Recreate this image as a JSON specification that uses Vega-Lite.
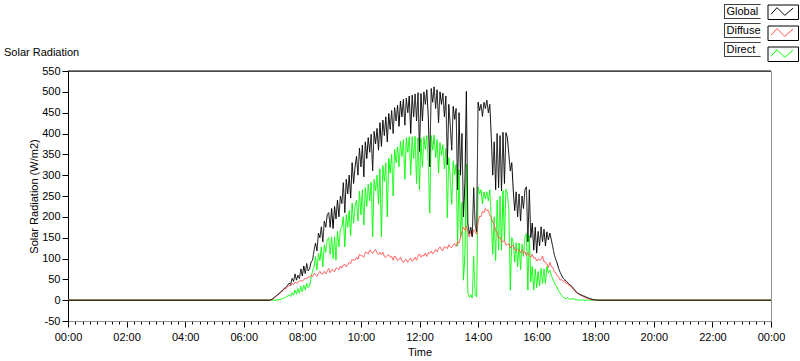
{
"$schema": "https://vega.github.io/schema/vega-lite/v6.json",
"width": 703, "height": 250,
"autosize": {"type": "none"},
"padding": {"left": 68, "top": 71, "right": 29, "bottom": 40},
"background": "white",
"config": {
 "font": "Liberation Sans",
 "view": {"stroke": "#909090"},
 "axis": {"labelFont": "Liberation Sans", "labelFontSize": 11, "labelColor": "#000", "titleFont": "Liberation Sans", "titleFontSize": 11, "titleFontWeight": "normal", "titleColor": "#000", "tickColor": "#000", "domainColor": "#000", "grid": false, "labelOverlap": false},
 "legend": {"labelFont": "Liberation Sans", "labelFontSize": 11, "labelColor": "#000"}
},
"title": {"text": "Solar Radiation", "anchor": "start", "frame": "group", "dx": -64, "dy": 67, "offset": 13, "fontSize": 11, "fontWeight": "normal", "font": "Liberation Sans", "color": "#000"},
"data": {"values": [
{"t":0,"g":0,"d":0,"b":0},{"t":411,"g":0,"d":0,"b":0},{"t":414,"g":0,"d":0,"b":0},{"t":417,"g":2,"d":1,"b":0},{"t":420,"g":4,"d":3,"b":0},{"t":423,"g":7,"d":6,"b":0},{"t":426,"g":10,"d":9,"b":0},{"t":429,"g":13,"d":12,"b":0},{"t":432,"g":16,"d":15,"b":1},{"t":435,"g":19,"d":17,"b":2},{"t":438,"g":22,"d":21,"b":3},{"t":441,"g":26,"d":24,"b":4},{"t":444,"g":29,"d":28,"b":6},{"t":447,"g":32,"d":28,"b":8},{"t":450,"g":36,"d":33,"b":10},{"t":453,"g":41,"d":36,"b":13},{"t":456,"g":38,"d":34,"b":9},{"t":459,"g":52,"d":40,"b":18},{"t":462,"g":45,"d":38,"b":12},{"t":465,"g":63,"d":43,"b":24},{"t":468,"g":48,"d":41,"b":14},{"t":471,"g":60,"d":43,"b":28},{"t":474,"g":52,"d":45,"b":17},{"t":477,"g":75,"d":48,"b":33},{"t":480,"g":58,"d":45,"b":20},{"t":483,"g":82,"d":50,"b":36},{"t":486,"g":64,"d":52,"b":25},{"t":489,"g":88,"d":51,"b":40},{"t":492,"g":70,"d":56,"b":30},{"t":495,"g":76,"d":55,"b":34},{"t":498,"g":92,"d":60,"b":55},{"t":501,"g":96,"d":56,"b":70},{"t":504,"g":120,"d":64,"b":80},{"t":507,"g":137,"d":62,"b":104},{"t":510,"g":118,"d":57,"b":72},{"t":513,"g":161,"d":64,"b":112},{"t":516,"g":150,"d":69,"b":95},{"t":519,"g":176,"d":63,"b":128},{"t":522,"g":140,"d":63,"b":80},{"t":525,"g":190,"d":69,"b":133},{"t":528,"g":175,"d":63,"b":115},{"t":531,"g":205,"d":70,"b":145},{"t":534,"g":210,"d":76,"b":150},{"t":537,"g":175,"d":66,"b":110},{"t":540,"g":220,"d":72,"b":152},{"t":543,"g":172,"d":73,"b":100},{"t":546,"g":225,"d":68,"b":152},{"t":549,"g":195,"d":77,"b":96},{"t":552,"g":240,"d":77,"b":165},{"t":555,"g":200,"d":73,"b":128},{"t":558,"g":250,"d":82,"b":170},{"t":561,"g":232,"d":77,"b":176},{"t":564,"g":282,"d":84,"b":200},{"t":567,"g":210,"d":86,"b":128},{"t":570,"g":290,"d":80,"b":205},{"t":573,"g":255,"d":85,"b":175},{"t":576,"g":300,"d":91,"b":215},{"t":579,"g":245,"d":88,"b":155},{"t":582,"g":330,"d":98,"b":233},{"t":585,"g":280,"d":96,"b":185},{"t":588,"g":320,"d":96,"b":225},
{"t":591,"g":345,"d":103,"b":240},{"t":594,"g":300,"d":98,"b":190},{"t":597,"g":365,"d":110,"b":262},{"t":600,"g":320,"d":107,"b":205},{"t":603,"g":372,"d":106,"b":265},{"t":606,"g":296,"d":103,"b":180},{"t":609,"g":380,"d":115,"b":270},{"t":612,"g":340,"d":114,"b":225},{"t":615,"g":390,"d":111,"b":278},{"t":618,"g":355,"d":120,"b":238},{"t":621,"g":398,"d":117,"b":283},{"t":624,"g":310,"d":112,"b":152},{"t":627,"g":405,"d":118,"b":290},{"t":630,"g":375,"d":122,"b":262},{"t":633,"g":412,"d":113,"b":300},{"t":636,"g":360,"d":109,"b":230},{"t":639,"g":426,"d":115,"b":315},{"t":642,"g":369,"d":109,"b":152},{"t":645,"g":432,"d":115,"b":323},{"t":648,"g":395,"d":105,"b":285},{"t":651,"g":440,"d":102,"b":330},{"t":654,"g":380,"d":107,"b":200},{"t":657,"g":448,"d":109,"b":340},{"t":660,"g":410,"d":103,"b":305},{"t":663,"g":455,"d":105,"b":350},{"t":666,"g":400,"d":96,"b":250},{"t":669,"g":462,"d":106,"b":362},{"t":672,"g":430,"d":103,"b":330},{"t":675,"g":468,"d":95,"b":368},{"t":678,"g":417,"d":98,"b":320},{"t":681,"g":478,"d":103,"b":381},{"t":684,"g":440,"d":94,"b":345},{"t":687,"g":482,"d":90,"b":385},{"t":690,"g":420,"d":96,"b":290},{"t":693,"g":485,"d":98,"b":390},{"t":696,"g":450,"d":91,"b":355},{"t":699,"g":490,"d":96,"b":392},{"t":702,"g":400,"d":101,"b":300},{"t":705,"g":492,"d":93,"b":392},{"t":708,"g":440,"d":97,"b":340},{"t":711,"g":495,"d":103,"b":393},{"t":714,"g":430,"d":96,"b":280},{"t":717,"g":498,"d":106,"b":390},{"t":720,"g":357,"d":111,"b":265},
{"t":723,"g":496,"d":103,"b":388},{"t":726,"g":430,"d":108,"b":320},{"t":729,"g":500,"d":106,"b":392},{"t":732,"g":470,"d":113,"b":362},{"t":735,"g":505,"d":105,"b":395},{"t":738,"g":440,"d":114,"b":330},{"t":741,"g":320,"d":112,"b":209},{"t":744,"g":508,"d":118,"b":395},{"t":747,"g":475,"d":111,"b":360},{"t":750,"g":512,"d":115,"b":396},{"t":753,"g":460,"d":122,"b":342},{"t":756,"g":505,"d":116,"b":385},{"t":759,"g":426,"d":123,"b":305},{"t":762,"g":500,"d":128,"b":378},{"t":765,"g":470,"d":121,"b":347},{"t":768,"g":497,"d":119,"b":373},{"t":771,"g":440,"d":128,"b":315},{"t":774,"g":490,"d":127,"b":364},{"t":777,"g":325,"d":124,"b":198},{"t":780,"g":470,"d":133,"b":342},{"t":783,"g":420,"d":128,"b":291},{"t":786,"g":360,"d":126,"b":230},{"t":789,"g":465,"d":133,"b":334},{"t":792,"g":434,"d":136,"b":301},{"t":795,"g":460,"d":129,"b":326},{"t":798,"g":265,"d":141,"b":130},{"t":801,"g":450,"d":137,"b":313},{"t":804,"g":300,"d":150,"b":150},{"t":807,"g":400,"d":165,"b":235},{"t":810,"g":200,"d":175,"b":48},{"t":813,"g":280,"d":168,"b":108},{"t":816,"g":501,"d":178,"b":327},{"t":819,"g":185,"d":165,"b":17},{"t":822,"g":160,"d":152,"b":7},{"t":825,"g":175,"d":166,"b":13},{"t":828,"g":152,"d":155,"b":5},{"t":831,"g":270,"d":169,"b":105},{"t":834,"g":180,"d":165,"b":12},{"t":837,"g":165,"d":158,"b":8},{"t":840,"g":475,"d":188,"b":272},{"t":843,"g":455,"d":202,"b":255},{"t":846,"g":470,"d":200,"b":265},{"t":849,"g":441,"d":213,"b":231},{"t":852,"g":475,"d":210,"b":260},{"t":855,"g":460,"d":220,"b":243},{"t":858,"g":480,"d":215,"b":260},{"t":861,"g":450,"d":216,"b":238},{"t":864,"g":470,"d":203,"b":265},{"t":867,"g":393,"d":200,"b":195},{"t":870,"g":300,"d":186,"b":110},{"t":873,"g":380,"d":183,"b":200},{"t":876,"g":265,"d":166,"b":95},
{"t":879,"g":400,"d":164,"b":240},{"t":882,"g":270,"d":148,"b":120},{"t":885,"g":395,"d":151,"b":250},{"t":888,"g":262,"d":139,"b":120},{"t":891,"g":403,"d":141,"b":263},{"t":894,"g":280,"d":143,"b":142},{"t":897,"g":402,"d":132,"b":266},{"t":900,"g":390,"d":134,"b":256},{"t":903,"g":350,"d":135,"b":218},{"t":906,"g":310,"d":125,"b":24},{"t":909,"g":330,"d":130,"b":150},{"t":912,"g":265,"d":132,"b":139},{"t":915,"g":215,"d":123,"b":91},{"t":918,"g":260,"d":118,"b":138},{"t":921,"g":200,"d":123,"b":80},{"t":924,"g":255,"d":119,"b":137},{"t":927,"g":190,"d":114,"b":73},{"t":930,"g":250,"d":121,"b":134},{"t":933,"g":220,"d":113,"b":105},{"t":936,"g":265,"d":116,"b":151},{"t":939,"g":272,"d":107,"b":160},{"t":942,"g":140,"d":114,"b":24},{"t":945,"g":265,"d":108,"b":155},{"t":948,"g":150,"d":103,"b":44},{"t":951,"g":185,"d":110,"b":81},{"t":954,"g":120,"d":101,"b":24},{"t":957,"g":175,"d":102,"b":75},{"t":960,"g":113,"d":94,"b":30},{"t":963,"g":165,"d":99,"b":69},{"t":966,"g":130,"d":96,"b":35},{"t":969,"g":176,"d":98,"b":76},{"t":972,"g":140,"d":106,"b":39},{"t":975,"g":170,"d":92,"b":75},{"t":978,"g":130,"d":92,"b":40},{"t":981,"g":164,"d":87,"b":81},{"t":984,"g":145,"d":78,"b":65},
{"t":987,"g":161,"d":91,"b":72},{"t":990,"g":145,"d":81,"b":60},{"t":993,"g":128,"d":79,"b":50},{"t":996,"g":110,"d":68,"b":42},{"t":999,"g":98,"d":66,"b":36},{"t":1002,"g":89,"d":58,"b":30},{"t":1005,"g":76,"d":56,"b":22},{"t":1008,"g":67,"d":48,"b":17},{"t":1011,"g":60,"d":50,"b":12},{"t":1014,"g":53,"d":45,"b":7},{"t":1017,"g":50,"d":47,"b":5},{"t":1020,"g":46,"d":40,"b":3},{"t":1023,"g":43,"d":41,"b":7},{"t":1026,"g":39,"d":35,"b":3},{"t":1029,"g":36,"d":34,"b":2},{"t":1032,"g":33,"d":30,"b":4},{"t":1035,"g":29,"d":26,"b":3},{"t":1038,"g":25,"d":22,"b":2},{"t":1041,"g":20,"d":18,"b":1},{"t":1044,"g":17,"d":16,"b":1},{"t":1047,"g":15,"d":14,"b":0},{"t":1050,"g":13,"d":12,"b":0},{"t":1053,"g":12,"d":10,"b":0},{"t":1056,"g":10,"d":8,"b":0},{"t":1059,"g":9,"d":7,"b":0},{"t":1062,"g":7,"d":5,"b":0},{"t":1065,"g":6,"d":4,"b":0},{"t":1068,"g":4,"d":3,"b":0},{"t":1071,"g":3,"d":2,"b":0},{"t":1074,"g":2,"d":1,"b":0},{"t":1077,"g":1,"d":1,"b":0},{"t":1080,"g":1,"d":0,"b":0},{"t":1083,"g":0,"d":0,"b":0},{"t":1086,"g":0,"d":0,"b":0},{"t":1440,"g":0,"d":0,"b":0}
]},
"layer": [
 {"mark": {"type": "line", "strokeWidth": 1},
  "encoding": {
   "x": {"field": "t", "type": "quantitative", "title": "Time", "scale": {"domain": [0, 1440], "nice": false, "zero": false},
     "axis": {"values": [0,15,30,45,60,75,90,105,120,135,150,165,180,195,210,225,240,255,270,285,300,315,330,345,360,375,390,405,420,435,450,465,480,495,510,525,540,555,570,585,600,615,630,645,660,675,690,705,720,735,750,765,780,795,810,825,840,855,870,885,900,915,930,945,960,975,990,1005,1020,1035,1050,1065,1080,1095,1110,1125,1140,1155,1170,1185,1200,1215,1230,1245,1260,1275,1290,1305,1320,1335,1350,1365,1380,1395,1410,1425,1440],
       "tickCount": 300,
       "labelExpr": "datum.value % 120 === 0 ? ((floor(datum.value/60) % 24) < 10 ? '0' : '') + (floor(datum.value/60) % 24) + ':00' : ''",
       "tickSize": {"condition": {"test": "datum.value % 120 === 0", "value": 6}, "value": 3},
       "labelPadding": 4, "labelOverlap": false, "labelBound": false, "labelFlush": false,
       "domainColor": "#909090", "titlePadding": 4}},
   "y": {"field": "b", "type": "quantitative", "title": "Solar Radiation (W/m2)", "scale": {"domain": [-50, 550], "nice": false, "zero": false},
     "axis": {"values": [-50,0,50,100,150,200,250,300,350,400,450,500,550], "tickCount": 50, "labelExpr": "'' + datum.value", "tickSize": 6, "labelPadding": 2, "titlePadding": 2, "labelOverlap": false}},
   "color": {"datum": "Direct", "scale": {"domain": ["Global", "Diffuse", "Direct"], "range": ["#000000", "#ff5050", "#00ff00"]},
     "legend": {"orient": "none", "legendX": 699.5, "legendY": -66.5, "title": null, "padding": 0, "rowPadding": 5, "clipHeight": 14,
       "symbolType": "M-1,0.25L-0.45,-0.35L0.25,0.35L1,-0.3", "symbolSize": 484, "symbolStrokeWidth": 1, "symbolOffset": 3, "labelExpr": "''",
       "encode": {"entries": {"update": {"stroke": {"value": "#000"}, "strokeWidth": {"value": 1}, "width": {"value": 29}, "height": {"value": 14}}},
                  "symbols": {"update": {"fill": {"value": "transparent"}}}}}},
   "strokeDash": {"datum": "Direct", "scale": {"domain": ["Global", "Diffuse", "Direct", "_"], "range": [[1,0],[1,0],[1,0],[1,0]]},
     "legend": {"orient": "none", "legendX": 656, "legendY": -67, "title": null, "padding": 0, "rowPadding": 4, "clipHeight": 15,
       "values": ["Global", "Diffuse", "Direct"], "symbolType": "M-1,-0.359H1V0.359H-1Z", "symbolSize": 1521, "symbolStrokeWidth": 1,
       "symbolStrokeColor": "#000", "symbolFillColor": "transparent", "symbolOffset": 0, "labelOffset": -37.5,
       "encode": {"symbols": {"update": {"stroke": {"value": "#000"}, "fill": {"value": "transparent"}, "strokeDash": {"value": []}}}}}}
  }},
 {"mark": {"type": "line", "strokeWidth": 1},
  "encoding": {
   "x": {"field": "t", "type": "quantitative", "title": "Time"},
   "y": {"field": "d", "type": "quantitative", "title": "Solar Radiation (W/m2)"},
   "color": {"datum": "Diffuse"},
   "strokeDash": {"datum": "Diffuse"}
  }},
 {"mark": {"type": "line", "strokeWidth": 1},
  "encoding": {
   "x": {"field": "t", "type": "quantitative", "title": "Time"},
   "y": {"field": "g", "type": "quantitative", "title": "Solar Radiation (W/m2)"},
   "color": {"datum": "Global"},
   "strokeDash": {"datum": "Global"}
  }},
 {"data": {"values": [{}]},
  "mark": {"type": "rule", "color": "#000", "strokeWidth": 1},
  "encoding": {"y": {"datum": 550, "title": "Solar Radiation (W/m2)"}}}
]
}
